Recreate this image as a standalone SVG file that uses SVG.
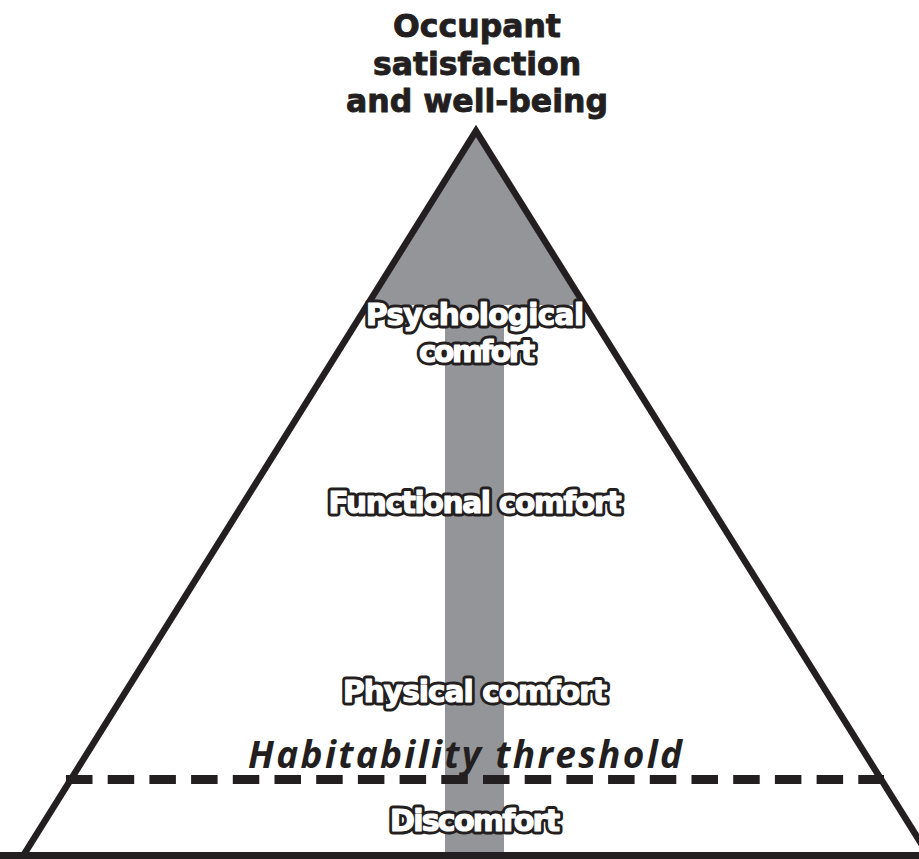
<svg xmlns="http://www.w3.org/2000/svg" width="919" height="859" viewBox="0 0 919 859">
  <style>
    .title { font-family: "DejaVu Sans", "Liberation Sans", sans-serif; font-weight: bold; font-size: 31.5px; fill: #231f20; stroke: #231f20; stroke-width: 0.9; text-anchor: middle; }
    .lbl { font-family: "DejaVu Sans", "Liberation Sans", sans-serif; font-weight: bold; text-anchor: middle; }
    .bk { fill: #231f20; stroke: #231f20; stroke-width: 7; stroke-linejoin: round; }
    .wh { fill: #ffffff; stroke: #ffffff; stroke-width: 1.2; stroke-linejoin: round; }
    .thr { font-family: "Open Sans", "Liberation Sans", sans-serif; font-style: italic; font-weight: bold; font-size: 37px; fill: #231f20; text-anchor: middle; }
    .gray { fill: #939598; }
  </style>
  <rect width="919" height="859" fill="#ffffff"/>
  <g id="shading">
    <polygon class="gray" points="476,131 367,305 585,305"/>
    <rect class="gray" x="445" y="300" width="59" height="556"/>
  </g>
  <g id="connectors">
    <polyline points="23,856 476,131 929,856" fill="none" stroke="#231f20" stroke-width="6.5" stroke-linejoin="miter" stroke-miterlimit="10"/>
    <line x1="0" y1="855.5" x2="919" y2="855.5" stroke="#231f20" stroke-width="7"/>
    <line x1="66" y1="779.5" x2="884" y2="779.5" stroke="#231f20" stroke-width="9" stroke-dasharray="26.5 15.2"/>
  </g>
  <g id="title">
    <text class="title" x="477" y="37">Occupant</text>
    <text class="title" x="477" y="75">satisfaction</text>
    <text class="title" x="477" y="112">and well-being</text>
  </g>
  <g id="psychological" font-size="29.5">
    <text class="lbl bk" x="475" y="325" textLength="218" lengthAdjust="spacing">Psychological</text>
    <text class="lbl wh" x="475" y="325" textLength="218" lengthAdjust="spacing">Psychological</text>
    <text class="lbl bk" x="477" y="362" textLength="116" lengthAdjust="spacing">comfort</text>
    <text class="lbl wh" x="477" y="362" textLength="116" lengthAdjust="spacing">comfort</text>
  </g>
  <g id="functional" font-size="29.5">
    <text class="lbl bk" x="475" y="513" textLength="293" lengthAdjust="spacing">Functional comfort</text>
    <text class="lbl wh" x="475" y="513" textLength="293" lengthAdjust="spacing">Functional comfort</text>
  </g>
  <g id="physical" font-size="29.5">
    <text class="lbl bk" x="475" y="702" textLength="264" lengthAdjust="spacing">Physical comfort</text>
    <text class="lbl wh" x="475" y="702" textLength="264" lengthAdjust="spacing">Physical comfort</text>
  </g>
  <g id="threshold">
    <text class="thr" x="465" y="768" textLength="434" lengthAdjust="spacing">Habitability threshold</text>
  </g>
  <g id="discomfort" font-size="30">
    <text class="lbl bk" x="475" y="831" textLength="170" lengthAdjust="spacing">Discomfort</text>
    <text class="lbl wh" x="475" y="831" textLength="170" lengthAdjust="spacing">Discomfort</text>
  </g>
</svg>
